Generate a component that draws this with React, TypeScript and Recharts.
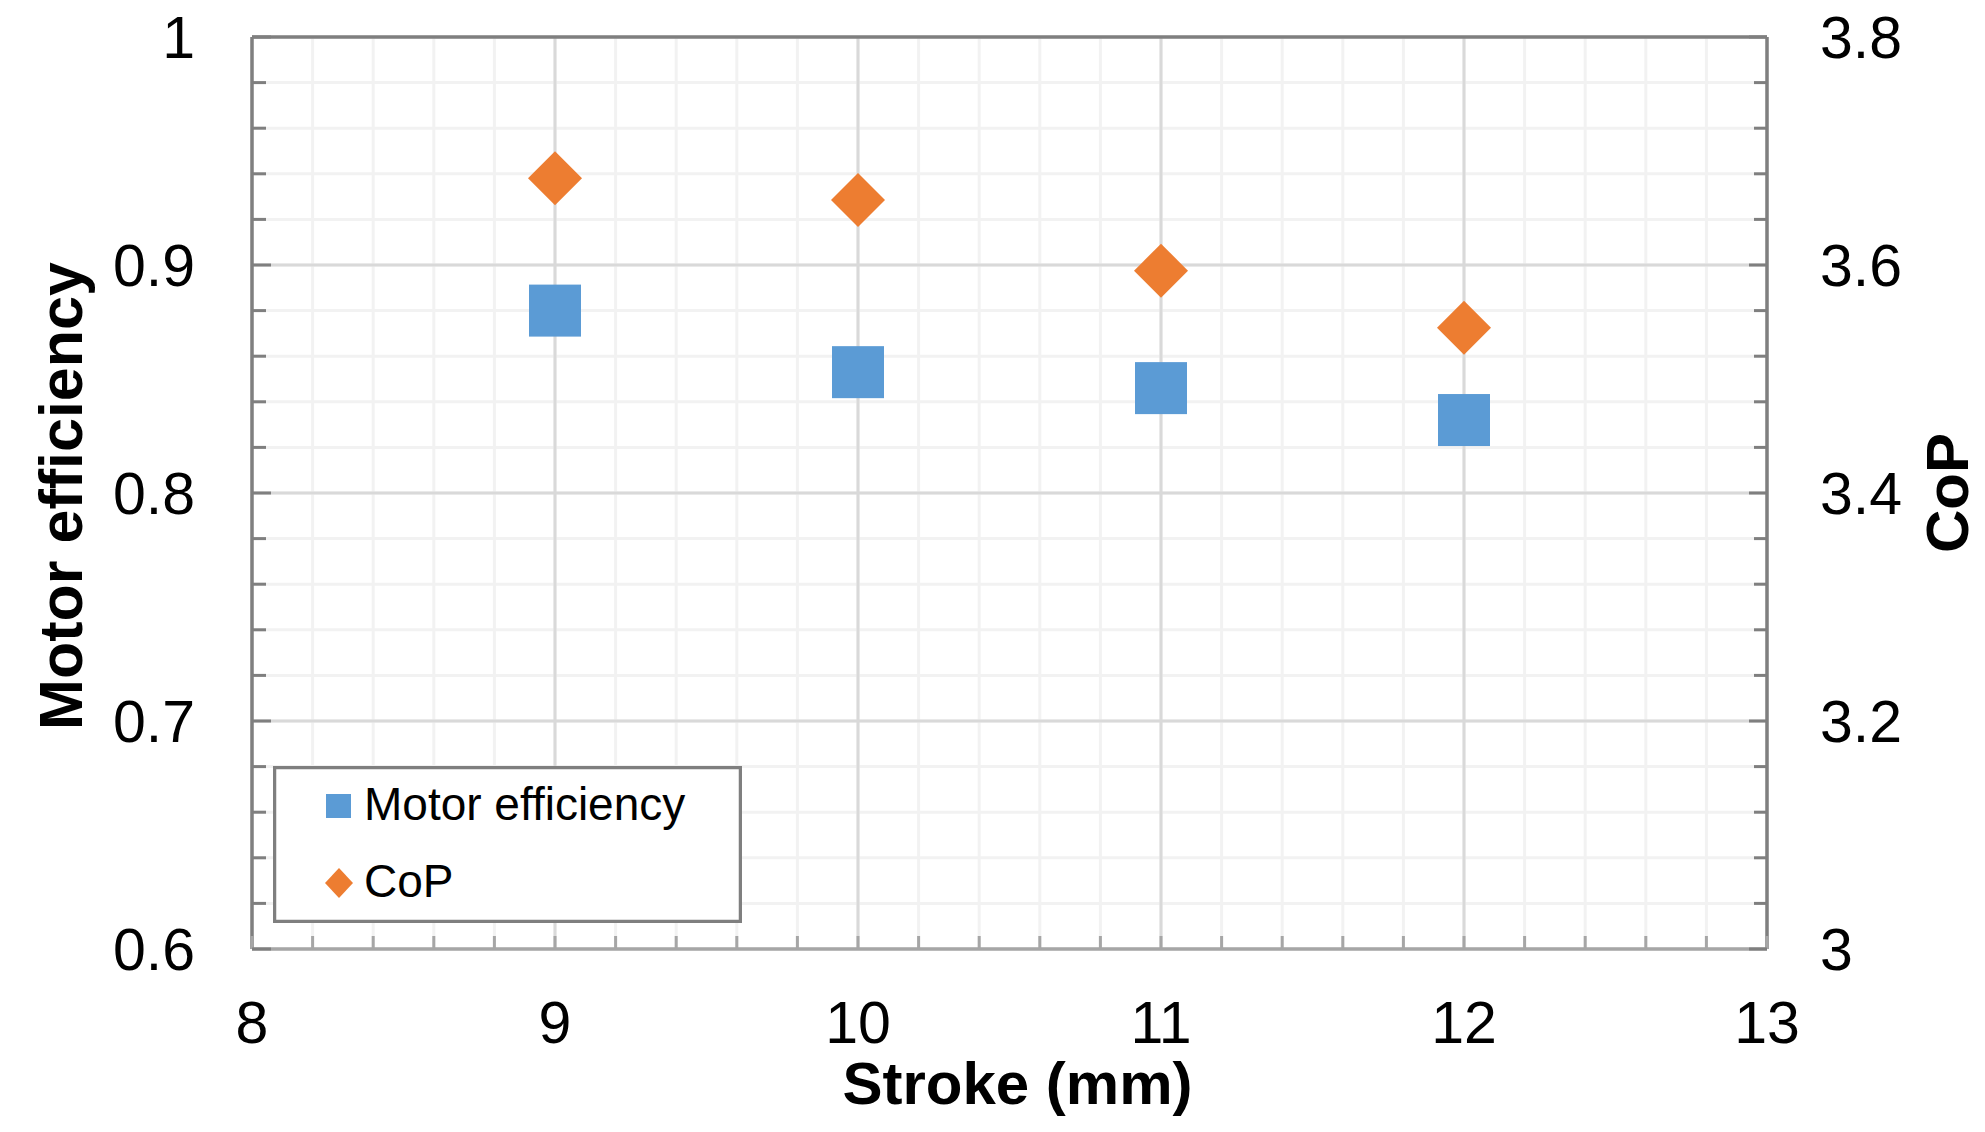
import React from "react";
import {
  ScatterChart,
  Scatter,
  XAxis,
  YAxis,
  CartesianGrid,
  ReferenceLine,
  Legend,
} from "recharts";

// values
const strokeMm = [9, 10, 11, 12];
const motorEfficiency = [0.88, 0.853, 0.846, 0.832];
const cop = [3.676, 3.657, 3.595, 3.545];

const seriesNames = ["Motor efficiency", "CoP"];

const xMajorTicks = [8, 9, 10, 11, 12, 13];
const leftMajorTicks = [0.6, 0.7, 0.8, 0.9, 1];
const rightMajorTicks = [3, 3.2, 3.4, 3.6, 3.8];

const FONT = "'Liberation Sans', Arial, sans-serif";
const AXIS_DARK = "#7f7f7f";
const AXIS_LIGHT = "#a6a6a6";
const BLUE = "#5b9bd5";
const ORANGE = "#ed7d31";

// 5 minor steps between each pair of major ticks
function subdivide(majors: number[], parts: number) {
  const out: number[] = [];
  for (let i = 0; i < majors.length - 1; i++) {
    const a = majors[i];
    const step = (majors[i + 1] - a) / parts;
    for (let k = 0; k < parts; k++) out.push(Math.round((a + k * step) * 1000) / 1000);
  }
  out.push(majors[majors.length - 1]);
  return out;
}

const xTicks = subdivide(xMajorTicks, 5);
const leftTicks = subdivide(leftMajorTicks, 5);
const rightTicks = subdivide(rightMajorTicks, 5);

const isMajor = (v: number, majors: number[]) => majors.some((m) => Math.abs(m - v) < 1e-6);

const motorData = strokeMm.map((s, i) => ({ stroke: s, value: motorEfficiency[i] }));
const copData = strokeMm.map((s, i) => ({ stroke: s, value: cop[i] }));

function XTick(props: any) {
  const { x, y, payload } = props;
  const v = payload.value;
  return (
    <g>
      <line x1={x} x2={x} y1={y} y2={y - 13} stroke={AXIS_LIGHT} strokeWidth={3} />
      {isMajor(v, xMajorTicks) && (
        <text x={x} y={y + 94} textAnchor="middle" fontSize={59} fontFamily={FONT} fill="#000">
          {String(v)}
        </text>
      )}
    </g>
  );
}

function LeftTick(props: any) {
  const { x, y, payload } = props;
  const v = payload.value;
  const major = isMajor(v, leftMajorTicks);
  return (
    <g>
      <line x1={x} x2={x + (major ? 19 : 14)} y1={y} y2={y} stroke={AXIS_DARK} strokeWidth={3} />
      {major && (
        <text x={x - 57} y={y + 21} textAnchor="end" fontSize={59} fontFamily={FONT} fill="#000">
          {String(v)}
        </text>
      )}
    </g>
  );
}

function RightTick(props: any) {
  const { x, y, payload } = props;
  const v = payload.value;
  const major = isMajor(v, rightMajorTicks);
  return (
    <g>
      <line x1={x} x2={x - (major ? 18 : 13)} y1={y} y2={y} stroke={AXIS_DARK} strokeWidth={3} />
      {major && (
        <text x={x + 53} y={y + 21} textAnchor="start" fontSize={59} fontFamily={FONT} fill="#000">
          {String(v)}
        </text>
      )}
    </g>
  );
}

const squareShape = (p: any) => (
  <rect x={p.cx - 26} y={p.cy - 26} width={52} height={52} fill={BLUE} />
);

const diamondShape = (p: any) => (
  <polygon
    points={`${p.cx},${p.cy - 27} ${p.cx + 27},${p.cy} ${p.cx},${p.cy + 27} ${p.cx - 27},${p.cy}`}
    fill={ORANGE}
  />
);

function LegendBox(props: any) {
  const payload = [...(props.payload || [])].sort(
    (a: any, b: any) => seriesNames.indexOf(a.value) - seriesNames.indexOf(b.value)
  );
  return (
    <svg width={469} height={157} style={{ display: "block" }}>
      <rect x={1.5} y={1.5} width={466} height={154} fill="#fff" stroke={AXIS_DARK} strokeWidth={3.5} />
      {payload.map((entry: any, i: number) => {
        const cy = i === 0 ? 40 : 117;
        const color = entry.color;
        return (
          <g key={entry.value}>
            {entry.type === "diamond" ? (
              <polygon points={`66,${cy - 15} 80,${cy} 66,${cy + 15} 52,${cy}`} fill={color} />
            ) : (
              <rect x={53} y={cy - 12} width={25} height={24} fill={color} />
            )}
            <text x={91} y={cy + 14} fontSize={46} fontFamily={FONT} fill="#000">
              {entry.value}
            </text>
          </g>
        );
      })}
    </svg>
  );
}

export default function App() {
  return (
    <div style={{ position: "absolute", left: 0, top: 0, background: "#fff" }}>
      <ScatterChart width={1985} height={1132} margin={{ top: 37, right: 68, bottom: 53, left: 52 }}>
        <CartesianGrid yAxisId="left" stroke="#f2f2f2" strokeWidth={3} />
        {xMajorTicks.slice(1, -1).map((v) => (
          <ReferenceLine key={"vx" + v} x={v} yAxisId="left" stroke="#d9d9d9" strokeWidth={3} />
        ))}
        {leftMajorTicks.slice(1, -1).map((v) => (
          <ReferenceLine key={"hy" + v} y={v} yAxisId="left" stroke="#d9d9d9" strokeWidth={3} />
        ))}
        <ReferenceLine y={1} yAxisId="left" stroke={AXIS_DARK} strokeWidth={3.5} />
        <XAxis
          type="number"
          dataKey="stroke"
          domain={[8, 13]}
          ticks={xTicks}
          interval={0}
          height={130}
          tickSize={0}
          tickMargin={0}
          tickLine={false}
          tick={XTick}
          axisLine={{ stroke: AXIS_LIGHT, strokeWidth: 3.5 }}
          label={(p: any) => {
            const vb = p.viewBox;
            return (
              <text
                x={vb.x + vb.width / 2 + 8}
                y={vb.y + 155}
                textAnchor="middle"
                fontSize={60}
                fontWeight="bold"
                fontFamily={FONT}
                fill="#000"
              >
                Stroke (mm)
              </text>
            );
          }}
        />
        <YAxis
          yAxisId="left"
          type="number"
          dataKey="value"
          domain={[0.6, 1]}
          ticks={leftTicks}
          interval={0}
          width={200}
          tickSize={0}
          tickMargin={0}
          tickLine={false}
          tick={LeftTick}
          axisLine={{ stroke: AXIS_DARK, strokeWidth: 3.5 }}
          label={(p: any) => {
            const vb = p.viewBox;
            const cx = vb.x + 30;
            const cy = vb.y + vb.height / 2 + 3;
            return (
              <text
                x={cx}
                y={cy}
                transform={`rotate(-90 ${cx} ${cy})`}
                textAnchor="middle"
                fontSize={61}
                fontWeight="bold"
                fontFamily={FONT}
                fill="#000"
              >
                Motor efficiency
              </text>
            );
          }}
        />
        <YAxis
          yAxisId="right"
          orientation="right"
          type="number"
          dataKey="value"
          domain={[3, 3.8]}
          ticks={rightTicks}
          interval={0}
          width={150}
          tickSize={0}
          tickMargin={0}
          tickLine={false}
          tick={RightTick}
          axisLine={{ stroke: AXIS_DARK, strokeWidth: 3.5 }}
          label={(p: any) => {
            const vb = p.viewBox;
            const cx = vb.x + 201;
            const cy = vb.y + vb.height / 2;
            return (
              <text
                x={cx}
                y={cy}
                transform={`rotate(-90 ${cx} ${cy})`}
                textAnchor="middle"
                fontSize={60}
                fontWeight="bold"
                fontFamily={FONT}
                fill="#000"
              >
                CoP
              </text>
            );
          }}
        />
        <Scatter
          name="Motor efficiency"
          data={motorData}
          dataKey="value"
          yAxisId="left"
          fill={BLUE}
          legendType="square"
          shape={squareShape}
          isAnimationActive={false}
        />
        <Scatter
          name="CoP"
          data={copData}
          dataKey="value"
          yAxisId="right"
          fill={ORANGE}
          legendType="diamond"
          shape={diamondShape}
          isAnimationActive={false}
        />
        <Legend
          layout="vertical"
          align="center"
          verticalAlign="middle"
          content={LegendBox}
          wrapperStyle={{ left: 273, top: 766, width: 469, height: 157 }}
        />
      </ScatterChart>
    </div>
  );
}
